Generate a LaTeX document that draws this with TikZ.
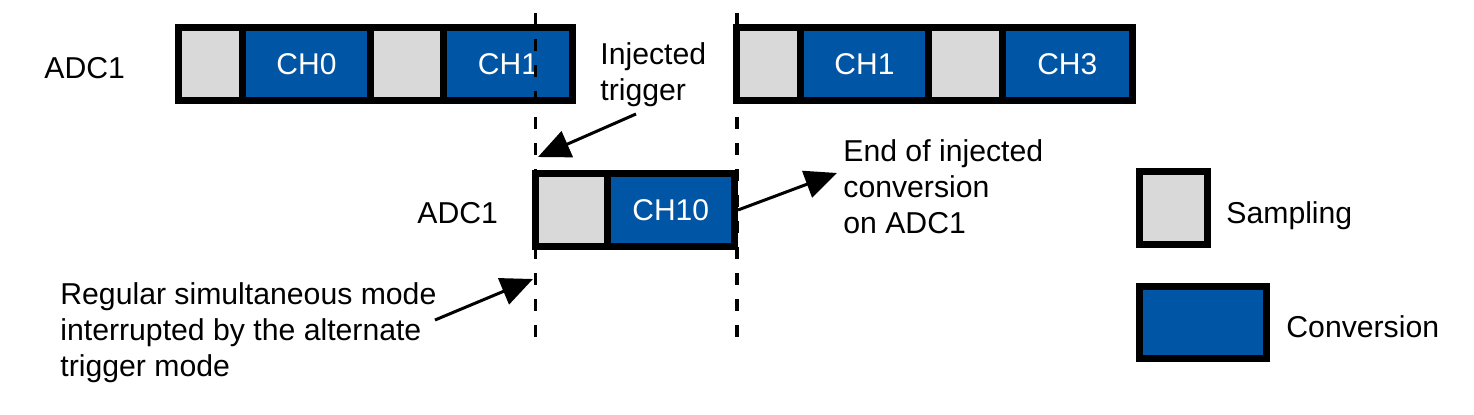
\documentclass[tikz,border=0pt]{standalone}
\usepackage{fontspec}
\setmainfont{Liberation Sans}
\usetikzlibrary{arrows.meta}
\definecolor{convblue}{RGB}{0,85,165}
\definecolor{sampgrey}{RGB}{217,217,217}
\begin{document}
\begin{tikzpicture}[x=0.5pt,y=-0.5pt,
  cellbase/.style={draw=black, line width=3.5pt, inner sep=0pt, minimum height=36.25pt},
  samp/.style={cellbase, fill=sampgrey},
  conv/.style={cellbase, fill=convblue, text=white, font=\fontsize{15}{17}\selectfont},
  lbl/.style={inner sep=0pt, anchor=north west, align=left, font=\fontsize{15.1}{18}\selectfont},
  guide/.style={line width=1.75pt, dash pattern=on 6pt off 7pt},
  pointer/.style={line width=1.5pt, -{Triangle[length=16pt,width=14pt]}}
]
\useasboundingbox (0,0) rectangle (1474,414);

% top left ADC1 row
\node[samp, minimum width=32pt]   (s1) at (210.5,63.75) {};
\node[conv, minimum width=64pt]   (c1) at (306.5,63.75) {CH0};
\node[samp, minimum width=36.5pt] (s2) at (407,63.75) {};
\node[conv, minimum width=64.5pt] (c2) at (508,63.75) {CH1};

% top right ADC1 row
\node[samp, minimum width=32pt]    (s3) at (768.5,63.75) {};
\node[conv, minimum width=64pt]    (c3) at (864.5,63.75) {CH1};
\node[samp, minimum width=37pt]    (s4) at (965.5,63.75) {};
\node[conv, minimum width=64.75pt] (c4) at (1067.25,63.75) {CH3};

% injected row
\node[samp, minimum width=35.75pt, minimum height=36.5pt] (s5) at (571.25,210) {};
\node[conv, minimum width=63.75pt, minimum height=36.5pt] (c5) at (670.75,210) {CH10};

% legend
\node[samp, minimum width=34pt, minimum height=36.5pt] (ls) at (1173.5,208) {};
\node[conv, minimum width=63.5pt, minimum height=36pt] (lc) at (1203,322.5) {};
\node[lbl] (lst) at (1226,201) {Sampling};
\node[lbl] (lct) at (1286,315) {Conversion};

% labels
\node[lbl] (adcA) at (44,57) {ADC1};
\node[lbl] (adcB) at (417,202) {ADC1};
\node[lbl] (inj) at (600,42) {Injected\\trigger};
\node[lbl] (eoi) at (843,139) {End of injected\\conversion\\on ADC1};
\node[lbl] (reg) at (60,282) {Regular simultaneous mode\\interrupted by the alternate\\trigger mode};

% dashed guides
\coordinate (g1t) at (535.5,13);
\coordinate (g1b) at (535.5,340);
\coordinate (g2t) at (737,13);
\coordinate (g2b) at (737,340);
\draw[guide] (g1t) -- (g1b);
\draw[guide] (g2t) -- (g2b);

% pointers
\coordinate (injA) at (636,114);
\coordinate (injB) at (538,157);
\coordinate (eoiB) at (837,173);
\coordinate (regA) at (435,320);
\coordinate (regB) at (533,279);
\draw[pointer] (injA) -- (injB);
\draw[pointer] (c5.east) -- (eoiB);
\draw[pointer] (regA) -- (regB);
\end{tikzpicture}
\end{document}
